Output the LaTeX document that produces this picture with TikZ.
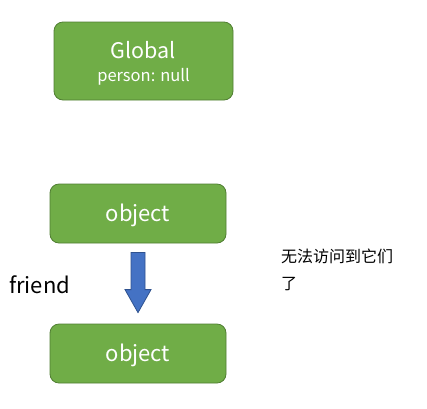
\documentclass[tikz,border=0pt]{standalone}
\usepackage{fontspec}
\setmainfont{Noto Sans CJK SC}
\newfontfamily\cjk{Noto Sans CJK SC}
\definecolor{boxgreen}{HTML}{70AD47}
\definecolor{boxedge}{HTML}{507E32}
\definecolor{arrblue}{HTML}{4472C4}
\definecolor{arredge}{HTML}{2F528F}
\begin{document}
\begin{tikzpicture}[x=1pt,y=-1pt,
  gbox/.style={draw=boxedge, fill=boxgreen, rounded corners=9pt, line width=0.8pt, text=white, align=center, inner sep=0pt},
  lbl/.style={inner sep=0pt, anchor=west}]
\useasboundingbox (0,0) rectangle (427,408);
\node[gbox, minimum width=179pt, minimum height=78pt] (g) at (143.5,61) {};
\node[text=white, font=\fontsize{21.5}{24}\selectfont] (gt) at (143.5,50) {Global};
\node[text=white, font=\fontsize{16.5}{19}\selectfont] (gp) at (143.5,77) {person: null};
\node[gbox, minimum width=176pt, minimum height=59pt] (o1) at (138,213.5) {};
\node[text=white, font=\fontsize{22}{24}\selectfont] (o1t) at (138,215) {object};
\node[gbox, minimum width=176pt, minimum height=59pt] (o2) at (138,353.5) {};
\node[text=white, font=\fontsize{22}{24}\selectfont] (o2t) at (138,355) {object};
\node[lbl, font=\fontsize{22}{24}\selectfont] (fr) at (9,285) {friend};
\node[lbl, font=\cjk\fontsize{16}{27}\selectfont, align=left, anchor=north west] (cn) at (281,249) {无法访问到它们\\了};
\coordinate (top) at ([yshift=-9pt]o1.south);
\coordinate (tip) at ([yshift=11pt]o2.north);
\draw[draw=arredge, fill=arrblue, line width=0.8pt]
  ([xshift=-7pt]top) -- ([xshift=7pt]top) -- ([xshift=7pt,yshift=23pt]tip)
  -- ([xshift=13pt,yshift=23pt]tip) -- (tip) -- ([xshift=-13pt,yshift=23pt]tip)
  -- ([xshift=-7pt,yshift=23pt]tip) -- cycle;
\end{tikzpicture}
\end{document}
